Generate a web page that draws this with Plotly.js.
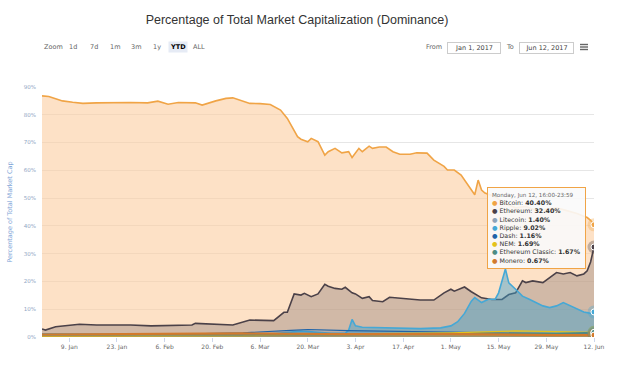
<!DOCTYPE html>
<html>
<head>
<meta charset="utf-8">
<script src="https://cdn.plot.ly/plotly-3.0.1.min.js"></script>
<style>html,body{margin:0;padding:0;background:#fff;}#chart{width:621px;height:389px;}</style>
</head>
<body>
<div id="chart"></div>
<script>
// ---------------- DATA ----------------
const seriesNames = ['Bitcoin','Ethereum','Litecoin','Ripple','Dash','NEM','Ethereum Classic','Monero'];

const btcDates = ['2017-01-01','2017-01-03','2017-01-05','2017-01-07','2017-01-10','2017-01-13','2017-01-17','2017-01-22','2017-01-27','2017-02-01','2017-02-04','2017-02-07','2017-02-10','2017-02-15','2017-02-17','2017-02-21','2017-02-24','2017-02-26','2017-02-28','2017-03-03','2017-03-06','2017-03-09','2017-03-12','2017-03-14','2017-03-17','2017-03-18','2017-03-20','2017-03-21','2017-03-23','2017-03-25','2017-03-26','2017-03-28','2017-03-30','2017-04-01','2017-04-02','2017-04-04','2017-04-05','2017-04-07','2017-04-08','2017-04-10','2017-04-12','2017-04-14','2017-04-16','2017-04-19','2017-04-21','2017-04-24','2017-04-26','2017-04-29','2017-04-30','2017-05-02','2017-05-04','2017-05-05','2017-05-07','2017-05-08','2017-05-09','2017-05-10','2017-05-11','2017-05-14','2017-05-17','2017-05-20','2017-05-23','2017-05-26','2017-05-29','2017-06-01','2017-06-04','2017-06-07','2017-06-09','2017-06-10','2017-06-11','2017-06-12'];
const btcVals = [86.8,86.6,85.8,85.0,84.5,84.1,84.3,84.4,84.4,84.3,84.9,83.8,84.4,84.3,83.5,85.0,85.9,86.1,85.3,84.1,84.0,83.7,81.7,78.7,72.1,71.2,70.3,71.5,70.3,65.5,66.7,67.9,66.3,66.7,64.6,67.9,66.7,68.7,67.9,68.4,68.4,66.7,65.8,65.8,66.3,66.2,63.7,61.4,60.1,60.1,58.3,56.5,52.9,51.2,56.5,52.9,51.8,50.5,48.0,46.5,47.0,45.5,46.0,46.5,45.5,44.5,43.5,43.0,42.0,40.40];

const ethDates = ['2017-01-01','2017-01-02','2017-01-05','2017-01-09','2017-01-12','2017-01-17','2017-01-27','2017-02-02','2017-02-07','2017-02-14','2017-02-15','2017-02-20','2017-02-26','2017-03-03','2017-03-07','2017-03-10','2017-03-13','2017-03-14','2017-03-16','2017-03-18','2017-03-19','2017-03-21','2017-03-23','2017-03-25','2017-03-26','2017-03-28','2017-03-30','2017-03-31','2017-04-02','2017-04-03','2017-04-05','2017-04-07','2017-04-08','2017-04-11','2017-04-13','2017-04-16','2017-04-20','2017-04-22','2017-04-26','2017-04-29','2017-05-01','2017-05-02','2017-05-05','2017-05-07','2017-05-10','2017-05-13','2017-05-16','2017-05-18','2017-05-20','2017-05-22','2017-05-23','2017-05-25','2017-05-28','2017-05-30','2017-06-01','2017-06-03','2017-06-05','2017-06-07','2017-06-09','2017-06-10','2017-06-11','2017-06-12'];
const ethVals = [2.9,2.5,3.7,4.3,4.6,4.3,4.3,4.0,4.2,4.3,4.9,4.6,4.3,6.1,5.9,5.9,8.9,8.9,15.5,15.1,15.7,14.5,15.5,19.0,18.3,17.5,17.2,17.9,15.9,15.5,13.9,14.5,13.1,12.7,14.3,13.9,13.5,13.3,13.3,15.9,17.2,16.5,18.0,16.3,14.1,13.5,13.5,15.3,15.9,20.2,19.6,20.2,19.6,21.4,23.2,22.7,23.2,22.0,22.7,23.8,27.0,32.40];

const ltcDates = ['2017-01-01','2017-02-01','2017-03-01','2017-03-20','2017-04-05','2017-04-20','2017-05-01','2017-05-15','2017-06-01','2017-06-12'];
const ltcVals = [1.2,1.1,1.0,0.9,1.0,1.3,1.7,1.5,1.5,1.40];

const xrpDates = ['2017-01-01','2017-01-20','2017-02-10','2017-02-28','2017-03-03','2017-03-10','2017-03-13','2017-03-18','2017-03-23','2017-03-27','2017-03-31','2017-04-01','2017-04-02','2017-04-03','2017-04-05','2017-04-10','2017-04-17','2017-04-22','2017-04-28','2017-05-01','2017-05-03','2017-05-05','2017-05-07','2017-05-08','2017-05-10','2017-05-12','2017-05-14','2017-05-15','2017-05-17','2017-05-18','2017-05-20','2017-05-21','2017-05-22','2017-05-24','2017-05-26','2017-05-28','2017-05-30','2017-06-01','2017-06-03','2017-06-05','2017-06-07','2017-06-09','2017-06-11','2017-06-12'];
const xrpVals = [0.5,0.4,0.4,0.4,0.5,1.1,1.5,2.1,1.7,1.3,1.3,2.5,6.3,4.0,3.5,3.3,3.0,3.0,3.3,4.0,5.5,8.5,12.9,14.2,12.4,13.6,13.6,15.9,24.5,19.5,17.2,15.9,14.7,13.6,12.4,11.2,10.6,11.2,12.4,11.2,10.0,9.0,8.5,9.02];

const dashDates = ['2017-01-01','2017-01-20','2017-02-10','2017-03-01','2017-03-15','2017-03-20','2017-04-01','2017-04-15','2017-05-01','2017-05-15','2017-06-01','2017-06-12'];
const dashVals = [0.9,0.8,1.0,1.5,2.4,2.7,2.3,2.0,1.8,1.4,1.2,1.16];

const nemDates = ['2017-01-01','2017-02-01','2017-03-01','2017-03-20','2017-04-10','2017-05-01','2017-05-20','2017-06-01','2017-06-12'];
const nemVals = [0.2,0.2,0.4,1.0,1.3,1.5,2.2,2.0,1.69];

const etcDates = ['2017-01-01','2017-02-01','2017-03-01','2017-04-01','2017-05-01','2017-05-20','2017-06-01','2017-06-12'];
const etcVals = [1.0,0.8,0.8,0.8,1.1,1.1,1.3,1.67];

const xmrDates = ['2017-01-01','2017-02-01','2017-03-01','2017-04-01','2017-05-01','2017-06-01','2017-06-12'];
const xmrVals = [0.9,1.1,1.3,1.0,1.0,0.7,0.67];

const yTickVals = [0,10,20,30,40,50,60,70,80,90];
const yTickText = yTickVals.map(v => v + '%');

// ---------------- STYLE ----------------
const lineColors = ['#f0a446','#4b4148','#8ea3b8','#45a8d6','#1f63a8','#e4c21c','#4c8c84','#d27a2c'];
const fillColors = ['rgba(252,205,160,0.6)','rgba(80,66,76,0.25)','rgba(142,163,184,0.15)','rgba(60,160,205,0.45)','rgba(31,99,168,0.15)','rgba(228,194,28,0.25)','rgba(76,140,132,0.15)','rgba(210,122,44,0.3)'];
const lineWidths = [1.6,1.6,1.2,1.6,1.2,1.2,1.2,2.2];

const allDates = [btcDates,ethDates,ltcDates,xrpDates,dashDates,nemDates,etcDates,xmrDates];
const allVals = [btcVals,ethVals,ltcVals,xrpVals,dashVals,nemVals,etcVals,xmrVals];

const traces = [];
for (let i = 0; i < seriesNames.length; i++) {
  traces.push({
    type: 'scatter', mode: 'lines', name: seriesNames[i],
    x: allDates[i], y: allVals[i],
    fill: 'tozeroy', fillcolor: fillColors[i],
    line: {color: lineColors[i], width: lineWidths[i]},
    hoverinfo: 'skip'
  });
}
// hover markers at the last point of each series
const lastX = allDates.map(d => d[d.length-1]);
const lastY = allVals.map(v => v[v.length-1]);
const haloColors = lineColors.map(c => c + '55');
traces.push({type:'scatter', mode:'markers', x:lastX, y:lastY, hoverinfo:'skip',
  marker:{size:13, color:haloColors, line:{width:0}}});
traces.push({type:'scatter', mode:'markers', x:lastX, y:lastY, hoverinfo:'skip',
  marker:{size:6, color:lineColors, line:{width:1, color:'#ffffff'}}});

// pixel helpers for layout decorations (plot area: x 42..594, y 87..337)
const L = 42, R = 594, T = 87, B = 337;
const px = x => (x - L) / (R - L);
const py = y => (B - y) / (B - T);

const smallFont = {family:'DejaVu Sans, Verdana, sans-serif', size:6.5, color:'#666666'};
const annotations = [];
// range selector
const rs = [['Zoom',53],['1d',73],['7d',94],['1m',115],['3m',136],['1y',157],['YTD',178],['ALL',199]];
rs.forEach(([t,x]) => {
  const a = {xref:'paper', yref:'paper', x:px(x), y:py(46.5), text:t, showarrow:false,
    xanchor:'center', yanchor:'middle', font:Object.assign({}, smallFont)};
  if (t === 'YTD') { a.text = '<b>YTD</b>'; a.font.color = '#000000'; a.bgcolor = '#e6ebf5'; a.borderpad = 1; }
  annotations.push(a);
});
// From / To boxes
annotations.push({xref:'paper', yref:'paper', x:px(434), y:py(46.5), text:'From', showarrow:false, xanchor:'center', yanchor:'middle', font:smallFont});
annotations.push({xref:'paper', yref:'paper', x:px(474), y:py(47.5), text:'Jan 1, 2017', showarrow:false, xanchor:'center', yanchor:'middle', font:Object.assign({}, smallFont, {color:'#444'}), bordercolor:'#cccccc', borderwidth:1, width:50, height:8, borderpad:1});
annotations.push({xref:'paper', yref:'paper', x:px(509.5), y:py(46.5), text:'To', showarrow:false, xanchor:'center', yanchor:'middle', font:smallFont});
annotations.push({xref:'paper', yref:'paper', x:px(546.5), y:py(47.5), text:'Jun 12, 2017', showarrow:false, xanchor:'center', yanchor:'middle', font:Object.assign({}, smallFont, {color:'#444'}), bordercolor:'#cccccc', borderwidth:1, width:51, height:8, borderpad:1});

// tooltip built from last values
const days = ['Sunday','Monday','Tuesday','Wednesday','Thursday','Friday','Saturday'];
const months = ['Jan','Feb','Mar','Apr','May','Jun','Jul','Aug','Sep','Oct','Nov','Dec'];
const ld = new Date(btcDates[btcDates.length-1] + 'T00:00:00Z');
let tip = "<span style='font-size:5.6px;color:#666'>" + days[ld.getUTCDay()] + ', ' + months[ld.getUTCMonth()] + ' ' + ld.getUTCDate() + ', 16:00-23:59</span>';
for (let i = 0; i < seriesNames.length; i++) {
  tip += "<br><span style='color:" + lineColors[i] + "'>●</span> " + seriesNames[i] + ': <b>' + lastY[i].toFixed(2) + '%</b>';
}
annotations.push({xref:'paper', yref:'paper', x:px(487), y:py(187), xanchor:'left', yanchor:'top',
  text: tip, showarrow:false, align:'left', bgcolor:'rgba(250,250,250,0.9)',
  bordercolor:lineColors[0], borderwidth:1, borderpad:4,
  font:{family:'DejaVu Sans, Verdana, sans-serif', size:6.3, color:'#333333'}});

const shapes = [44.5, 47, 49.5].map(y => ({type:'line', xref:'paper', yref:'paper',
  x0:px(580), x1:px(588), y0:py(y), y1:py(y), line:{color:'#666666', width:1.4}}));

const layout = {
  width:621, height:389,
  margin:{l:L, r:621-R, t:T, b:389-B},
  paper_bgcolor:'#ffffff', plot_bgcolor:'#ffffff',
  showlegend:false,
  title:{text:'Percentage of Total Market Capitalization (Dominance)', xref:'container', yref:'container',
    x:297/621, xanchor:'center', y:1-20/389, yanchor:'middle',
    font:{family:'Liberation Sans, Arial, sans-serif', size:12.5, color:'#333333'}},
  xaxis:{type:'date', range:['2017-01-01','2017-06-12'], tick0:'2017-01-09', dtick:14*86400000,
    tickformat:'%-d. %b', showgrid:false, zeroline:false, showline:false,
    ticks:'outside', ticklen:4, tickcolor:'#ccd6eb',
    tickfont:{family:'DejaVu Sans, Verdana, sans-serif', size:6, color:'#666666'}},
  yaxis:{range:[0,90], tickmode:'array', tickvals:yTickVals, ticktext:yTickText, showgrid:true, gridcolor:'#e6e6e6',
    zeroline:false, showline:false, ticklabelstandoff:5,
    tickfont:{family:'DejaVu Sans, Verdana, sans-serif', size:5.5, color:'#8fa6c4'},
    title:{text:'Percentage of Total Market Cap', standoff:10,
      font:{family:'DejaVu Sans, Verdana, sans-serif', size:6.5, color:'#7fa6d8'}}},
  annotations: annotations,
  shapes: shapes
};

Plotly.newPlot('chart', traces, layout, {displayModeBar:false, staticPlot:true});
</script>
</body>
</html>
